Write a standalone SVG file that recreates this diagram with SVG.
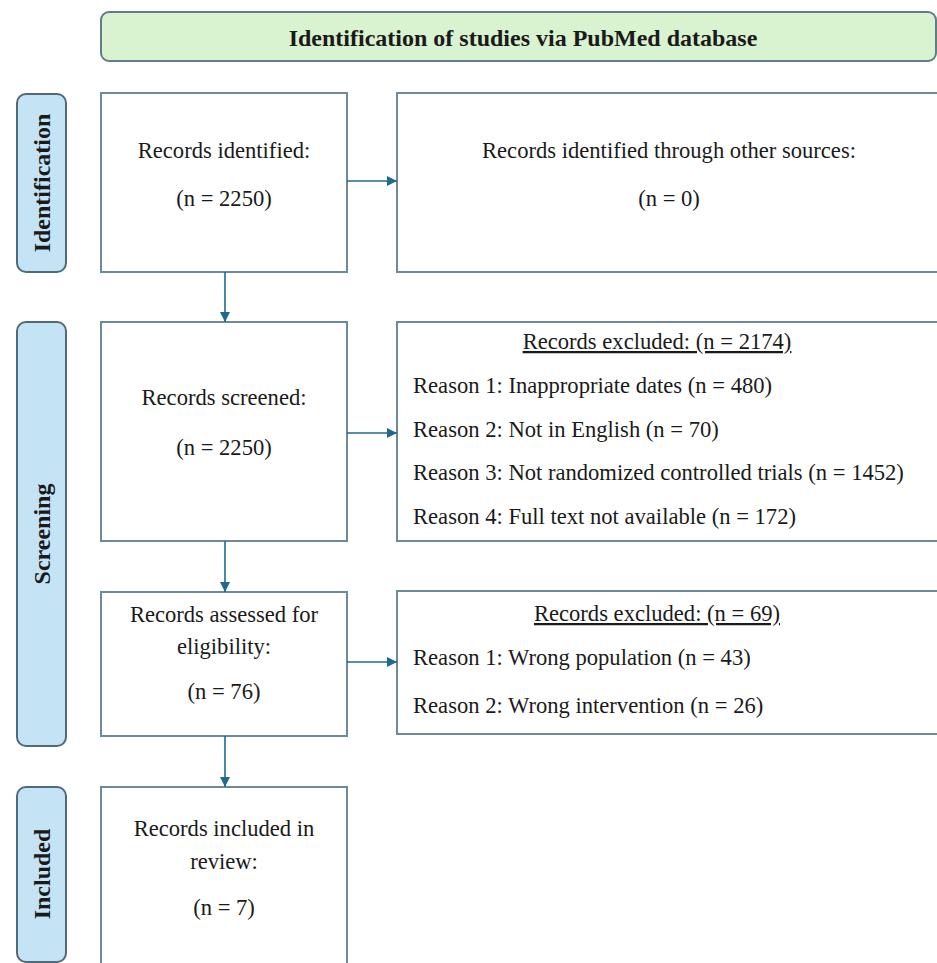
<svg xmlns="http://www.w3.org/2000/svg" width="937" height="963" viewBox="0 0 937 963">
<defs>
<style>
.box{fill:#ffffff;stroke:#6e8a97;stroke-width:2}
.banner{fill:#d9f2d0;stroke:#5f7d8b;stroke-width:2}
.side{fill:#c4e4f6;stroke:#4f6b79;stroke-width:2}
.t{font-family:"Liberation Serif","Times New Roman",serif;font-size:22.6px;fill:#1a1a1a}
.c{text-anchor:middle}
.b{font-weight:bold;font-size:24px}
.u{text-decoration:underline}
.conn{stroke:#1f6a8f;stroke-width:1.6;fill:none}
</style>
<marker id="ah" viewBox="0 0 10 10" refX="10" refY="5" markerWidth="10" markerHeight="10" markerUnits="userSpaceOnUse" orient="auto">
<path d="M0,0 L10,5 L0,10 Z" fill="#1f6a8f"/>
</marker>
</defs>
<rect width="937" height="963" fill="#ffffff"/>

<g id="banner">
<rect class="banner" x="101" y="12" width="835" height="49" rx="8"/>
<text class="t c b" x="523" y="46">Identification of studies via PubMed database</text>
</g>

<g id="label-identification">
<rect class="side" x="17" y="94" width="49" height="178" rx="9"/>
<text class="t c b" transform="translate(50,183) rotate(-90)">Identification</text>
</g>
<g id="label-screening">
<rect class="side" x="17" y="322" width="49" height="424" rx="9"/>
<text class="t c b" transform="translate(50,534) rotate(-90)">Screening</text>
</g>
<g id="label-included">
<rect class="side" x="17" y="787" width="49" height="175" rx="9"/>
<text class="t c b" transform="translate(50,874) rotate(-90)">Included</text>
</g>

<g id="records-identified">
<rect class="box" x="101" y="93" width="246" height="179"/>
<text class="t c" x="224" y="158">Records identified:</text>
<text class="t c" x="224" y="206">(n = 2250)</text>
</g>
<g id="other-sources">
<rect class="box" x="397" y="93" width="560" height="179"/>
<text class="t c" x="669" y="158">Records identified through other sources:</text>
<text class="t c" x="669" y="206">(n = 0)</text>
</g>
<g id="records-screened">
<rect class="box" x="101" y="322" width="246" height="219"/>
<text class="t c" x="224" y="405">Records screened:</text>
<text class="t c" x="224" y="455">(n = 2250)</text>
</g>
<g id="excluded-1">
<rect class="box" x="397" y="322" width="560" height="219"/>
<text class="t c u" x="657" y="349">Records excluded: (n = 2174)</text>
<text class="t" x="413" y="393">Reason 1: Inappropriate dates (n = 480)</text>
<text class="t" x="413" y="437">Reason 2: Not in English (n = 70)</text>
<text class="t" x="413" y="480">Reason 3: Not randomized controlled trials (n = 1452)</text>
<text class="t" x="413" y="524">Reason 4: Full text not available (n = 172)</text>
</g>
<g id="assessed">
<rect class="box" x="101" y="592" width="246" height="144"/>
<text class="t c" x="224" y="622">Records assessed for</text>
<text class="t c" x="224" y="654">eligibility:</text>
<text class="t c" x="224" y="699">(n = 76)</text>
</g>
<g id="excluded-2">
<rect class="box" x="397" y="591" width="560" height="143"/>
<text class="t c u" x="657" y="621">Records excluded: (n = 69)</text>
<text class="t" x="413" y="665">Reason 1: Wrong population (n = 43)</text>
<text class="t" x="413" y="713">Reason 2: Wrong intervention (n = 26)</text>
</g>
<g id="included">
<rect class="box" x="101" y="787" width="246" height="200"/>
<text class="t c" x="224" y="836">Records included in</text>
<text class="t c" x="224" y="869">review:</text>
<text class="t c" x="224" y="915">(n = 7)</text>
</g>

<g id="connectors">
<line class="conn" x1="347" y1="181" x2="397" y2="181" marker-end="url(#ah)"/>
<line class="conn" x1="225" y1="272" x2="225" y2="322" marker-end="url(#ah)"/>
<line class="conn" x1="347" y1="433" x2="397" y2="433" marker-end="url(#ah)"/>
<line class="conn" x1="225" y1="541" x2="225" y2="592" marker-end="url(#ah)"/>
<line class="conn" x1="347" y1="662" x2="397" y2="662" marker-end="url(#ah)"/>
<line class="conn" x1="225" y1="736" x2="225" y2="787" marker-end="url(#ah)"/>
</g>
</svg>
